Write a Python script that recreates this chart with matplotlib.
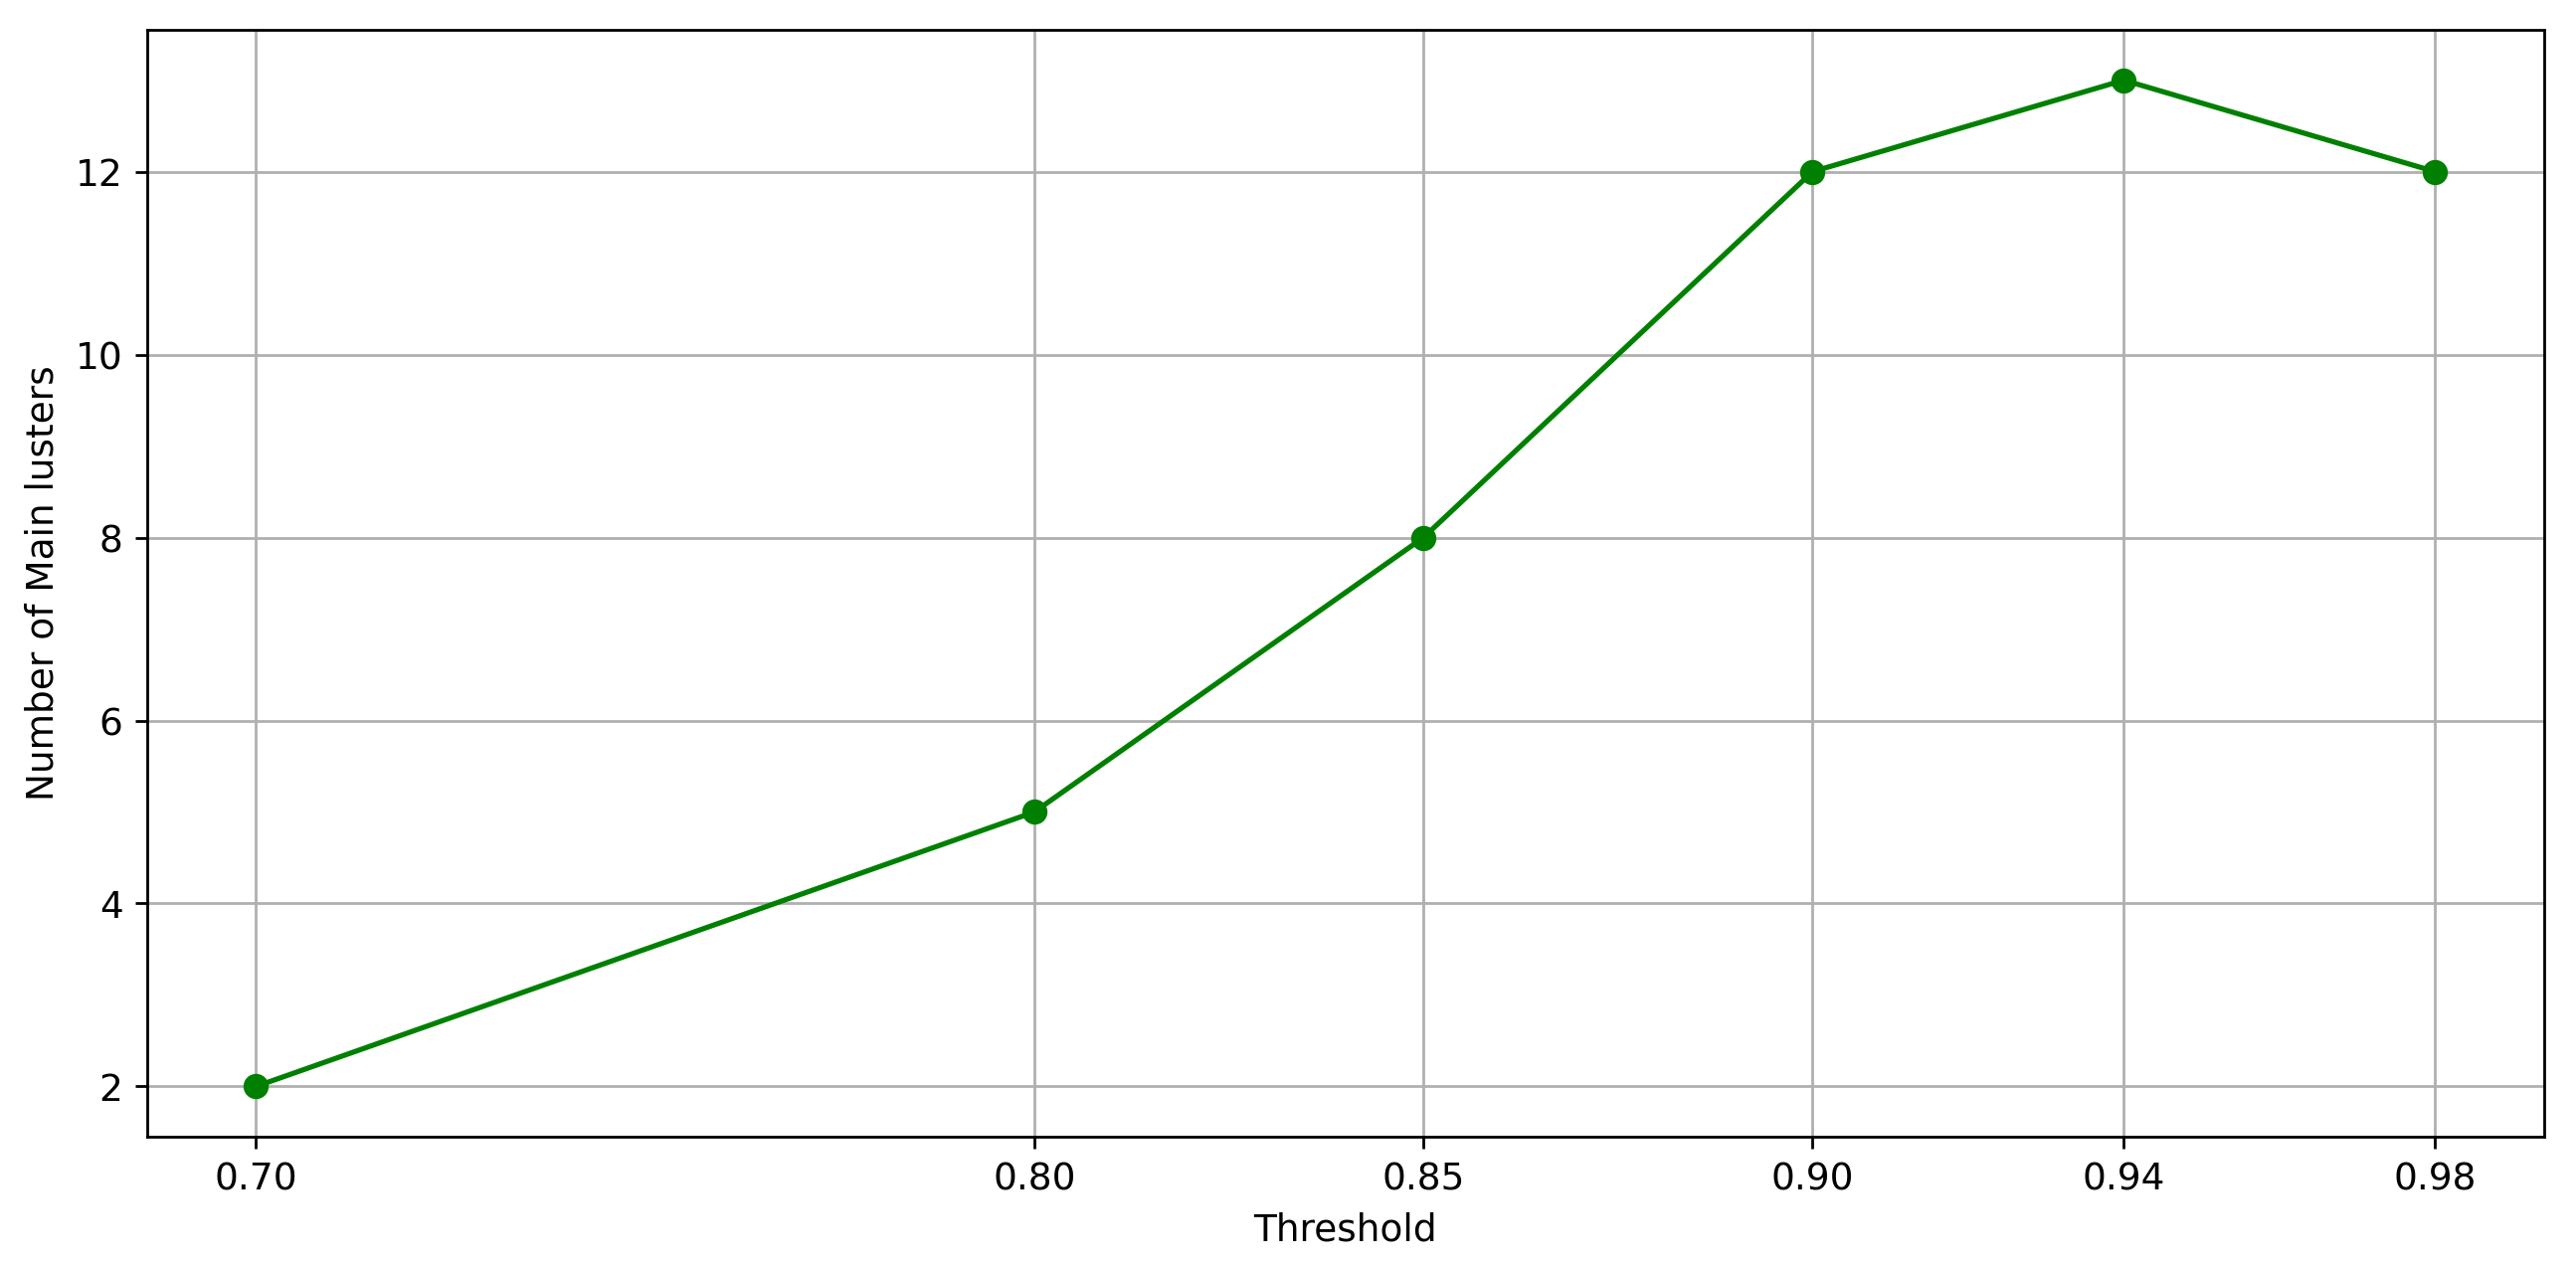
import matplotlib
matplotlib.use('Agg')
import matplotlib.pyplot as plt

thresholds = [0.70, 0.80, 0.85, 0.90, 0.94, 0.98]
num_clusters = [2, 5, 8, 12, 13, 12]
tick_labels = ['0.70', '0.80', '0.85', '0.90', '0.94', '0.98']


def lineGraph():
    plt.rcParams['font.size'] = 10.8
    fig = plt.figure(figsize=(2590 / 250, 1273 / 250), dpi=250)
    ax = fig.add_axes([0.0571, 0.1021, 0.9305, 0.8743])
    ax.plot(thresholds, num_clusters, color='green', marker='o', markersize=6.3)
    ax.set_xticks(thresholds)
    ax.set_xticklabels(tick_labels)
    ax.set_xlabel('Threshold')
    ax.set_ylabel('Number of Main lusters')
    ax.grid(True)
    fig.savefig('out.png', dpi=250)


if __name__ == '__main__':
    lineGraph()
